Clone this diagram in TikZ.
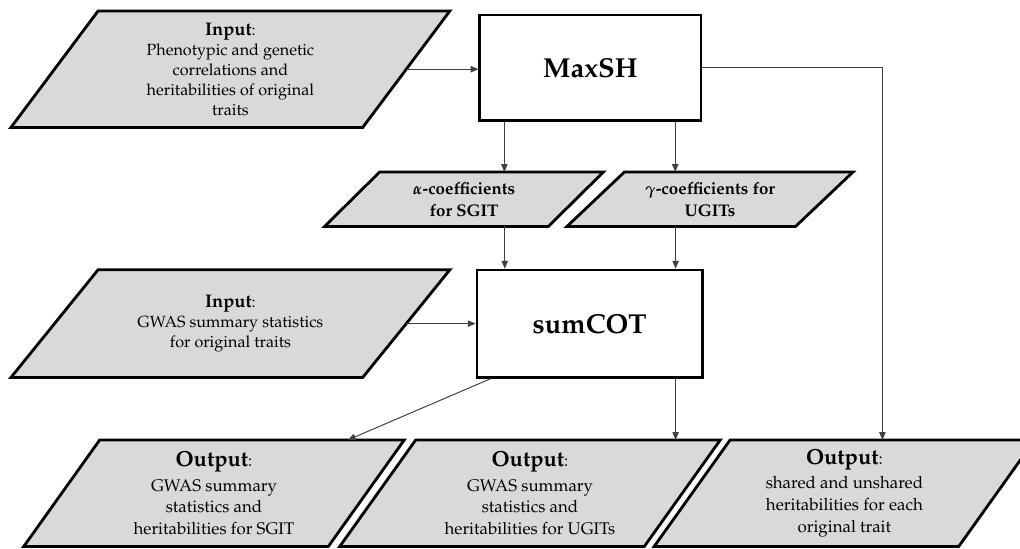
\documentclass[tikz,border=0pt]{standalone}
\usepackage[T1]{fontenc}
\usepackage{mathpazo}
\usepackage{xcolor}
\usepackage{tikz}
\usetikzlibrary{arrows.meta, positioning, calc, backgrounds}

\definecolor{boxgray}{HTML}{D9D9D9}
\definecolor{linegray}{HTML}{404040}
\newcommand{\intitle}{{\fontsize{13}{16}\selectfont\bfseries Input}:}
\newcommand{\outtitle}{{\fontsize{15.5}{18}\selectfont\bfseries Output}:}

\begin{document}
\begin{tikzpicture}[
  io/.style={rectangle, inner sep=0pt, align=center,
             font=\fontsize{11.5}{14.2}\selectfont},
  outp/.style={io, minimum width=7.6cm, minimum height=2.65cm,
               font=\fontsize{12}{15.5}\selectfont},
  coef/.style={io, minimum height=1.35cm,
               font=\bfseries\boldmath\fontsize{12}{15.4}\selectfont},
  slab/.style={draw=black, line width=2pt, fill=boxgray},
  proc/.style={rectangle, draw=black, line width=2pt, fill=white,
               font=\bfseries\fontsize{19.5}{22}\selectfont},
  arr/.style={-{Triangle[length=5.5pt, width=4.5pt]}, draw=linegray, line width=0.7pt}
]
\useasboundingbox (0,0) rectangle (25.5,-13.7);
%% inputs (left column)
\node[io, minimum width=8.78cm, minimum height=2.9cm] (in_pheno) at (5.76,-1.73)
    {\intitle\\Phenotypic and genetic\\correlations and\\heritabilities of original\\traits};
\node[io, minimum width=8.78cm, minimum height=2.68cm] (in_gwas) at (5.76,-8.09)
    {\intitle\\GWAS summary statistics\\for original traits};
%% methods
\node[proc, minimum width=5.53cm, minimum height=2.63cm] (maxsh)  at (14.76,-1.69) {MaxSH};
\node[proc, minimum width=5.63cm, minimum height=2.68cm] (sumcot) at (14.74,-8.09) {sumCOT};
%% coefficients from MaxSH
\node[coef, minimum width=5.58cm] (alpha) at (11.6,-4.98)  {$\alpha$-coefficients\\for SGIT};
\node[coef, minimum width=5.7cm]  (gamma) at (17.75,-4.98) {$\gamma$-coefficients for\\UGITs};
%% outputs (bottom row)
\node[outp] (out_sgit)   at (5.35,-12.33)
    {\outtitle\\[2pt]GWAS summary\\statistics and\\heritabilities for SGIT};
\node[outp] (out_ugit)   at (13.25,-12.33)
    {\outtitle\\[2pt]GWAS summary\\statistics and\\heritabilities for UGITs};
\node[outp] (out_shared) at (21.11,-12.33)
    {\outtitle\\[2pt]shared and unshared\\heritabilities for each\\original trait};
%% parallelograms behind the text (half slant per node)
\begin{pgfonlayer}{background}
  \foreach \n/\s in {in_pheno/1.09, in_gwas/1.09, alpha/0.69, gamma/0.72,
                     out_sgit/0.95, out_ugit/0.95, out_shared/0.95}
    \draw[slab] ($(\n.south west)+(-\s,0)$) -- ($(\n.north west)+(\s,0)$)
             -- ($(\n.north east)+(\s,0)$) -- ($(\n.south east)+(-\s,0)$) -- cycle;
\end{pgfonlayer}
%% arrows
\draw[arr] (in_pheno.east) -- (in_pheno.east -| maxsh.west);
\draw[arr] (in_gwas.east) -- (in_gwas.east -| sumcot.west);
\draw[arr] ([xshift=0.65cm]maxsh.south west) -- ([xshift=0.65cm]maxsh.south west |- alpha.north);
\draw[arr] ([xshift=-0.68cm]maxsh.south east) -- ([xshift=-0.68cm]maxsh.south east |- gamma.north);
\draw[arr] ([xshift=0.73cm]sumcot.north west |- alpha.south) -- ([xshift=0.73cm]sumcot.north west);
\draw[arr] ([xshift=-0.7cm]sumcot.north east |- gamma.south) -- ([xshift=-0.7cm]sumcot.north east);
\draw[arr] ([xshift=0.38cm]sumcot.south west) -- ([xshift=-0.46cm]out_sgit.north east);
\draw[arr] ([xshift=-0.7cm]sumcot.south east) -- ([xshift=-0.7cm]sumcot.south east |- out_ugit.north);
%% shared heritabilities straight from MaxSH
\draw[arr] (maxsh.east) -| ([xshift=0.95cm]out_shared.north);
\end{tikzpicture}
\end{document}
